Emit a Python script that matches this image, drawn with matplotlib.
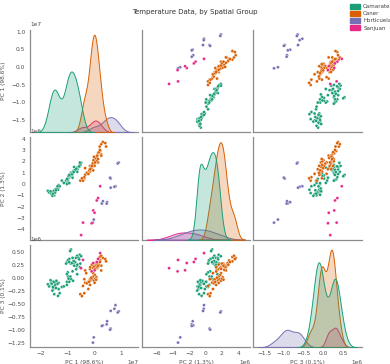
import numpy as np
import pandas as pd
import matplotlib
matplotlib.use("Agg")
import matplotlib.pyplot as plt
import seaborn as sns
from matplotlib.patches import Patch
from matplotlib.ticker import MultipleLocator

GROUPS = ["Camarate", "Caner", "Horticuelas", "Sanjuan"]

# PC1 in 1e7, PC2 and PC3 in 1e6
camarate_pc1 = [-0.86, -0.89, -0.625, -0.53, -0.48, -0.68, -0.80, -0.92, -0.98, -1.01, -1.04, -0.86,
                -0.74, -0.51, -0.65, -0.53, -0.74, -0.80, -0.98, -1.01, -0.96, -0.625, -1.01, -0.92,
                -0.88, -0.85, -0.62, -0.78, -0.82, -0.58, -0.95, -0.70, -0.76, -0.55, -0.92, -0.66,
                -1.72, -1.67, -1.60, -1.55, -1.46, -1.32, -1.48, -1.52, -1.55, -1.32, -1.20, -1.125,
                -1.28, -1.48, -1.34, -1.01, -1.58, -1.50, -1.45, -1.40, -1.53, -1.62, -1.36, -1.42]
camarate_pc2 = [0.80, 0.68, 1.08, 1.60, 1.87, 1.29, 0.88, 0.60, 0.40, 0.35, 0.30, 1.00,
                1.49, 1.69, 1.37, 1.89, 1.20, 0.56, 0.30, 0.10, 0.48, 1.45, 0.00, 0.08,
                0.75, 0.90, 1.30, 1.10, 0.85, 1.50, 0.70, 1.25, 1.05, 1.55, 0.80, 1.35,
                -0.60, -0.75, -0.85, -0.95, -0.50, -0.30, -1.00, -0.90, -1.04, -0.10, 0.30, 0.10,
                -0.20, -0.80, -0.50, 0.45, -0.70, -0.60, -0.75, -0.40, -0.85, -0.65, -0.20, -0.55]
camarate_pc3 = [0.54, 0.51, 0.42, 0.44, 0.41, 0.38, 0.38, 0.36, 0.33, 0.29, 0.27, 0.27,
                0.28, 0.27, 0.22, 0.20, 0.23, 0.12, 0.10, 0.065, 0.02, 0.065, -0.08, -0.08,
                0.02, -0.03, 0.25, -0.06, 0.28, 0.38, -0.02, 0.30, 0.32, 0.35, 0.30, 0.16,
                -0.13, -0.17, -0.10, -0.08, -0.10, -0.10, -0.17, -0.22, -0.25, -0.22, -0.18, -0.17,
                -0.30, -0.32, -0.35, -0.14, -0.12, -0.08, -0.15, -0.06, -0.18, -0.05, -0.12, -0.20]

caner_pc1 = [-0.33, -0.29, -0.15, -0.09, 0.03, 0.09, 0.15, 0.23, 0.21, 0.27, 0.33, 0.42,
             0.45, 0.27, 0.11, -0.03, 0.03, -0.09, -0.03, -0.15, -0.21, -0.36, -0.33, -0.27,
             -0.41, -0.15, -0.03, 0.09, -0.21, -0.36, -0.51, -0.45, 0.27, 0.03, 0.15,
             -0.12, -0.06, 0.00, 0.05, -0.18, -0.10, 0.02, 0.08, -0.02, 0.06,
             0.12, 0.18, 0.10, -0.05, 0.00, 0.15, 0.22, -0.08, 0.04, -0.14]
caner_pc2 = [1.4, 0.9, 1.6, 1.3, 2.2, 2.0, 2.7, 2.9, 3.3, 3.5, 3.7, 3.6,
             3.3, 2.6, 2.4, 1.9, 1.8, 1.5, 1.2, 1.1, 0.9, 0.5, 0.8, 1.0,
             0.3, 1.3, 1.6, 2.1, 0.9, 0.6, 0.3, 0.5, 2.5, 2.3, 1.9,
             1.5, 1.7, 1.9, 2.0, 1.2, 1.4, 1.6, 2.2, 2.1, 2.3,
             2.5, 2.8, 2.0, 1.8, 2.4, 2.2, 3.0, 1.6, 1.9, 1.3]
caner_pc3 = [0.137, 0.085, 0.163, 0.117, 0.267, 0.23, 0.28, 0.33, 0.396, 0.42, 0.377, 0.357,
             0.312, 0.23, 0.18, 0.085, 0.05, -0.012, -0.045, -0.032, -0.077, -0.032, -0.097, -0.11,
             -0.16, -0.14, 0.02, 0.007, -0.22, -0.30, -0.32, -0.356, 0.137, 0.15, 0.20,
             -0.05, -0.03, -0.06, -0.02, -0.08, 0.00, -0.10, -0.04, 0.22, 0.24,
             0.20, 0.25, 0.27, 0.19, 0.21, 0.23, 0.30, 0.25, 0.17, 0.20]

horticuelas_pc1 = [0.92, 0.88, 0.80, 0.76, 0.62, 0.62, 0.60, 0.49, 0.47, 0.33, 0.29, -0.01, -0.04]
horticuelas_pc2 = [1.89, 1.81, -0.20, -0.24, -0.32, 0.48, 0.56, -1.60, -1.72, -1.52, -1.72, -3.13, -3.40]
horticuelas_pc3 = [-0.65, -0.67, -0.53, -0.60, -0.64, -0.98, -1.00, -0.84, -0.90, -0.92, -0.93, -1.15, -1.25]

sanjuan_pc1 = [0.23, 0.15, 0.10, -0.03, 0.02, -0.41, -0.09, -0.48]
sanjuan_pc2 = [-0.2, -1.24, -1.45, -2.33, -2.53, -3.4, -3.46, -4.5]
sanjuan_pc3 = [0.47, 0.36, 0.30, 0.28, 0.14, 0.34, 0.12, 0.18]

COLS = ["PC 1 (98.6%)", "PC 2 (1.3%)", "PC 3 (0.1%)"]

frames = []
for name, p1, p2, p3 in [
    ("Camarate", camarate_pc1, camarate_pc2, camarate_pc3),
    ("Caner", caner_pc1, caner_pc2, caner_pc3),
    ("Horticuelas", horticuelas_pc1, horticuelas_pc2, horticuelas_pc3),
    ("Sanjuan", sanjuan_pc1, sanjuan_pc2, sanjuan_pc3),
]:
    frames.append(pd.DataFrame({
        COLS[0]: np.array(p1) * 1e7,
        COLS[1]: np.array(p2) * 1e6,
        COLS[2]: np.array(p3) * 1e6,
        "Group": name,
    }))
df = pd.concat(frames, ignore_index=True)

sns.set_style("white")
plt.rcParams.update({
    "font.size": 4.2,
    "axes.labelsize": 4.2,
    "xtick.labelsize": 4.2,
    "ytick.labelsize": 4.2,
    "xtick.major.size": 0,
    "xtick.major.pad": 2.5,
    "ytick.major.size": 0,
    "ytick.major.pad": 3.5,
    "axes.edgecolor": "0.55",
    "axes.linewidth": 0.9,
    "text.color": "0.25",
    "axes.labelcolor": "0.3",
    "xtick.color": "0.3",
    "ytick.color": "0.3",
})

palette = sns.color_palette("Dark2", 4)
g = sns.pairplot(df, hue="Group", hue_order=GROUPS, palette=palette, diag_kind="kde",
                 height=1.2, plot_kws=dict(s=5, linewidth=0.25, edgecolor="white"),
                 diag_kws=dict(linewidth=0.7))
g._legend.remove()
fig = g.figure
fig.set_size_inches(3.9, 3.64)
fig.subplots_adjust(left=0.077, right=0.928, top=0.918, bottom=0.046, wspace=0.03, hspace=0.05)

for i in range(3):
    g.axes[i, 1].xaxis.set_major_locator(MultipleLocator(2e6))
    g.axes[1, i].yaxis.set_major_locator(MultipleLocator(1e6))

for ax in g.axes.flat:
    ax.xaxis.get_offset_text().set_fontsize(4.2)
    ax.yaxis.get_offset_text().set_fontsize(4.2)
for i in range(3):
    g.axes[i, 0].yaxis.set_label_coords(-0.225, 0.5)
    g.axes[2, i].xaxis.set_label_coords(0.5, -0.12)

fig.suptitle("Temperature Data, by Spatial Group", fontsize=5, y=0.975, color="0.2")
handles = [Patch(facecolor=c, edgecolor=c) for c in palette]
fig.legend(handles, GROUPS, loc="upper left", bbox_to_anchor=(0.887, 1.0), frameon=False,
           fontsize=4, handlelength=1.9, handleheight=0.9, handletextpad=0.5,
           labelspacing=0.35, borderaxespad=0.3)

fig.savefig("out.png", dpi=100)
